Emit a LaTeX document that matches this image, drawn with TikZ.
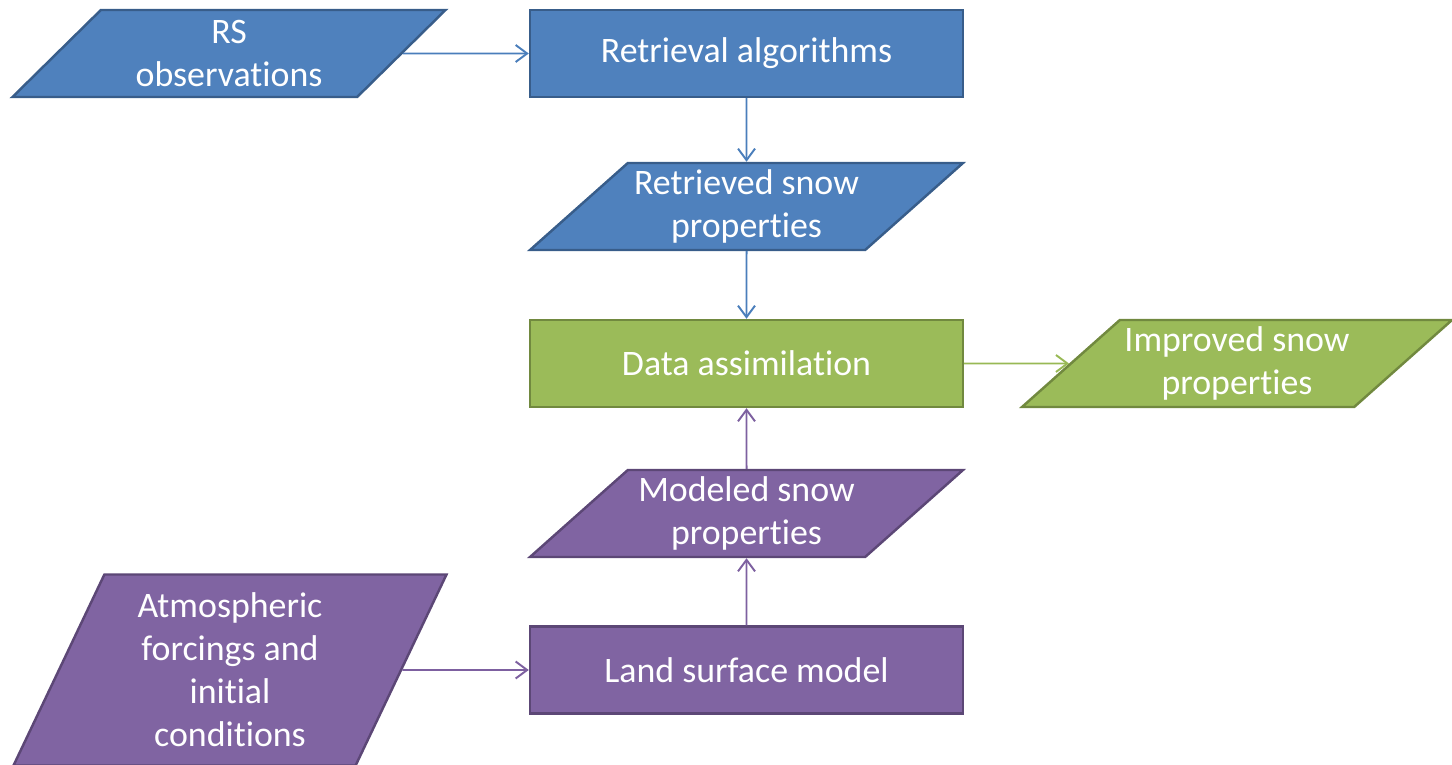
\documentclass[tikz,border=0pt]{standalone}
\usepackage{fontspec}
\setmainfont{Carlito}[Ligatures={NoCommon}]
\usepackage{tikz}
\usetikzlibrary{shapes.geometric,arrows.meta}
\definecolor{bluefill}{HTML}{4F81BD}
\definecolor{blueline}{HTML}{385D8A}
\definecolor{bluearr}{HTML}{4A7EBB}
\definecolor{greenfill}{HTML}{9BBB59}
\definecolor{greenline}{HTML}{71893F}
\definecolor{greenarr}{HTML}{98B954}
\definecolor{purplefill}{HTML}{8064A2}
\definecolor{purpleline}{HTML}{5C4776}
\definecolor{purplearr}{HTML}{7D60A0}
\tikzstyle{box}=[draw, line width=1.4pt, text=white, align=center, inner sep=0pt, minimum width=8.66cm, minimum height=1.74cm, font=\fontsize{20.4}{24.5}\selectfont]
\tikzstyle{data}=[box, trapezium, trapezium left angle=37, trapezium right angle=143, trapezium stretches body]
\tikzstyle{blue}=[fill=bluefill, draw=blueline]
\tikzstyle{green}=[fill=greenfill, draw=greenline]
\tikzstyle{purple}=[fill=purplefill, draw=purpleline]
\tikzstyle{flow}=[line width=1.1pt, -{Straight Barb[length=2.3mm,width=3.4mm]}]

\begin{document}
\begin{tikzpicture}
  \useasboundingbox (0, 0) rectangle (29.04, -15.3);
  \node [style=data, style=blue] (0) at (4.58, -1.07) {RS\\observations};
  \node [style=box, style=blue] (1) at (14.93, -1.07) {Retrieval algorithms};
  \node [style=data, style=blue] (2) at (14.93, -4.13) {Retrieved snow\\properties};
  \node [style=box, style=green] (3) at (14.93, -7.27) {Data assimilation};
  \node [style=data, style=green, minimum width=8.6cm] (4) at (24.74, -7.27) {Improved snow\\properties};
  \node [style=data, style=purple] (5) at (14.93, -10.27) {Modeled snow\\properties};
  \node [style=box, style=purple] (6) at (14.93, -13.4) {Land surface model};
  \node [style=data, style=purple, minimum height=3.82cm, trapezium left angle=59.5, trapezium right angle=120.5] (7) at (4.6, -13.4) {Atmospheric\\forcings and\\initial\\conditions};
  \draw [style=flow, draw=bluearr] (0) to (1);
  \draw [style=flow, draw=bluearr] (1) to (2);
  \draw [style=flow, draw=bluearr] (2) to (3);
  \draw [style=flow, draw=greenarr] (3) to (4);
  \draw [style=flow, draw=purplearr] (5) to (3);
  \draw [style=flow, draw=purplearr] (6) to (5);
  \draw [style=flow, draw=purplearr] (7) to (6);
\end{tikzpicture}
\end{document}
